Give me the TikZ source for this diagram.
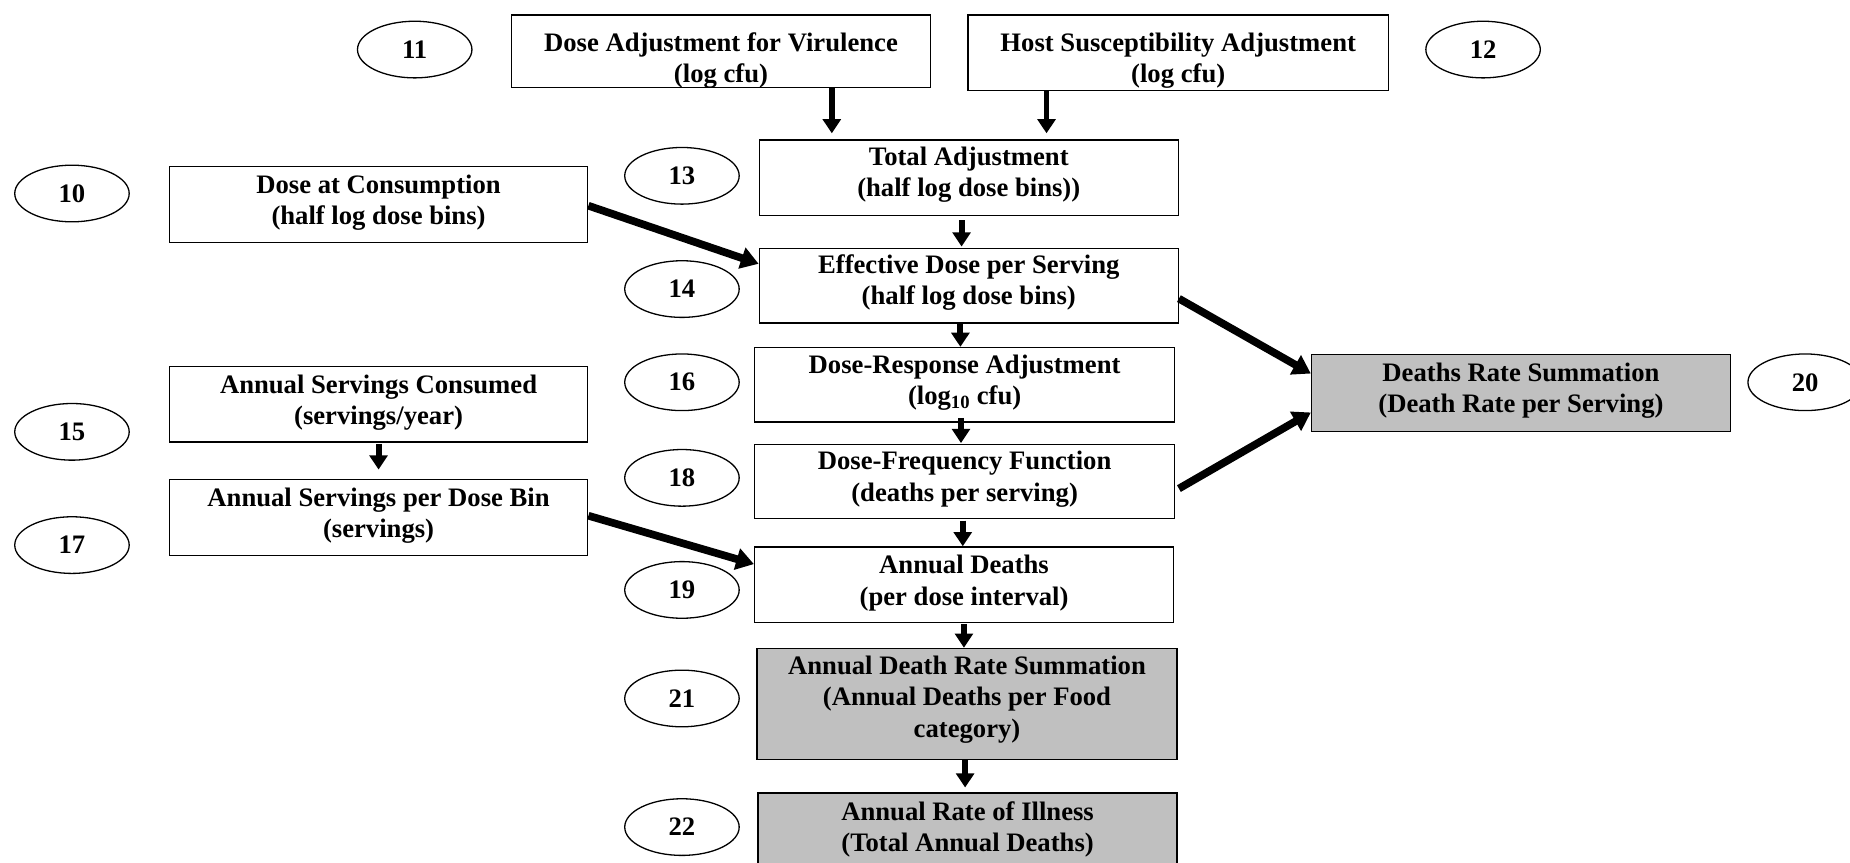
\documentclass[tikz,border=0pt]{standalone}
\usepackage{fontspec}
\setmainfont{Liberation Serif}
\usetikzlibrary{arrows.meta,calc,shapes.geometric}
\definecolor{boxgray}{RGB}{192,192,192}
\tikzset{
  boxnode/.style={draw=black, line width=1.2pt, inner sep=0pt, anchor=north west,
    font=\fontsize{22.6}{26.5}\selectfont\bfseries},
  grayfill/.style={fill=boxgray},
  numoval/.style={draw=black, line width=1.1pt, ellipse, inner sep=0pt,
    minimum width=97pt, minimum height=48pt, font=\fontsize{22.6}{26.5}\selectfont\bfseries},
  varrow/.style={line width=5pt, -{Triangle[width=15pt,length=12pt]}},
  darrow/.style={line width=6.5pt, -{Triangle[width=18pt,length=15pt]}},
}
\newcommand{\boxtext}[4]{\parbox[c][#2pt][t]{#1pt}{\centering\vspace*{#3pt}#4\par}}
\begin{document}
\begin{tikzpicture}[x=1pt,y=-1pt]
\useasboundingbox[fill=white] (0,0) rectangle (1568,731);
\clip (0,0) rectangle (1568,731);

% boxes
\node[boxnode] (dav) at (433,12) {\boxtext{355}{61.5}{15}{Dose Adjustment for Virulence\\(log cfu)}};
\node[boxnode] (hsa) at (820,12) {\boxtext{356}{64}{15}{Host Susceptibility Adjustment\\(log cfu)}};
\node[boxnode] (ta) at (643,118) {\boxtext{355}{64}{6}{Total Adjustment\\(half log dose bins))}};
\node[boxnode] (dac) at (143,140.5) {\boxtext{354.5}{64.5}{7}{Dose at Consumption\\(half log dose bins)}};
\node[boxnode] (eds) at (643,210) {\boxtext{355}{63}{5}{Effective Dose per Serving\\(half log dose bins)}};
\node[boxnode] (dra) at (639,294) {\boxtext{356}{63}{6}{Dose-Response Adjustment\\(log\textsubscript{10} cfu)}};
\node[boxnode] (dff) at (639,376) {\boxtext{356}{63}{6}{Dose-Frequency Function\\(deaths per serving)}};
\node[boxnode] (asc) at (143,310) {\boxtext{354.5}{64}{7}{Annual Servings Consumed\\(servings/year)}};
\node[boxnode] (aspdb) at (143,406) {\boxtext{354.5}{64}{7}{Annual Servings per Dose Bin\\(servings)}};
\node[boxnode] (ad) at (639,463) {\boxtext{355}{64}{7}{Annual Deaths\\(per dose interval)}};
\node[boxnode,grayfill] (drs) at (1111,300) {\boxtext{355}{65}{7}{Deaths Rate Summation\\(Death Rate per Serving)}};
\node[boxnode,grayfill] (adrs) at (641,549) {\boxtext{356}{94}{6.5}{Annual Death Rate Summation\\(Annual Deaths per Food\\category)}};
\node[boxnode,grayfill] (aroi) at (642,671.5) {\boxtext{355}{66}{7}{Annual Rate of Illness\\(Total Annual Deaths)}};

% number ovals
\node[numoval] (n11) at (351.5,42) {11};
\node[numoval] (n12) at (1257,42) {12};
\node[numoval] (n10) at (61,164) {10};
\node[numoval] (n13) at (578,149) {13};
\node[numoval] (n14) at (578,245) {14};
\node[numoval] (n16) at (578,324) {16};
\node[numoval] (n15) at (61,366) {15};
\node[numoval] (n18) at (578,405) {18};
\node[numoval] (n17) at (61,462) {17};
\node[numoval] (n19) at (578,500) {19};
\node[numoval] (n20) at (1530,324) {20};
\node[numoval] (n21) at (578,592) {21};
\node[numoval] (n22) at (578,701) {22};

% vertical arrows
\draw[varrow] ($(dav.south west)+(272,0)$) -- ($(ta.north west)+(62,-5)$);
\draw[varrow] ($(hsa.south west)+(67,0)$) -- ($(ta.north west)+(244,-5)$);
\draw[varrow] ($(ta.south west)+(172,3.5)$) -- ($(eds.north west)+(172,-1)$);
\draw[varrow] ($(eds.south west)+(171,0.5)$) -- ($(dra.north west)+(175,0)$);
\draw[varrow] ($(dra.south west)+(175.5,-4)$) -- ($(dff.north west)+(175.5,-0.5)$);
\draw[varrow] ($(dff.south west)+(177,1)$) -- ($(ad.north west)+(177,0)$);
\draw[varrow] ($(ad.south west)+(178,0.5)$) -- ($(adrs.north west)+(176,0)$);
\draw[varrow] ($(adrs.south west)+(177,0)$) -- ($(aroi.north west)+(176,-4)$);
\draw[varrow] ($(asc.south)+(0,1)$) -- ($(aspdb.north)+(0,-8)$);

% diagonal arrows
\draw[darrow] ($(dac.east)+(0,1)$) -- ($(eds.west)+(0,-18.5)$);
\draw[darrow] ($(aspdb.east)+(0,-1.5)$) -- ($(ad.west)+(0,-17.5)$);
\draw[darrow] ($(eds.east)+(0,11)$) -- ($(drs.west)+(0,-16.5)$);
\draw[darrow] ($(dff.east)+(3,6)$) -- ($(drs.west)+(0,16.5)$);
\end{tikzpicture}
\end{document}
